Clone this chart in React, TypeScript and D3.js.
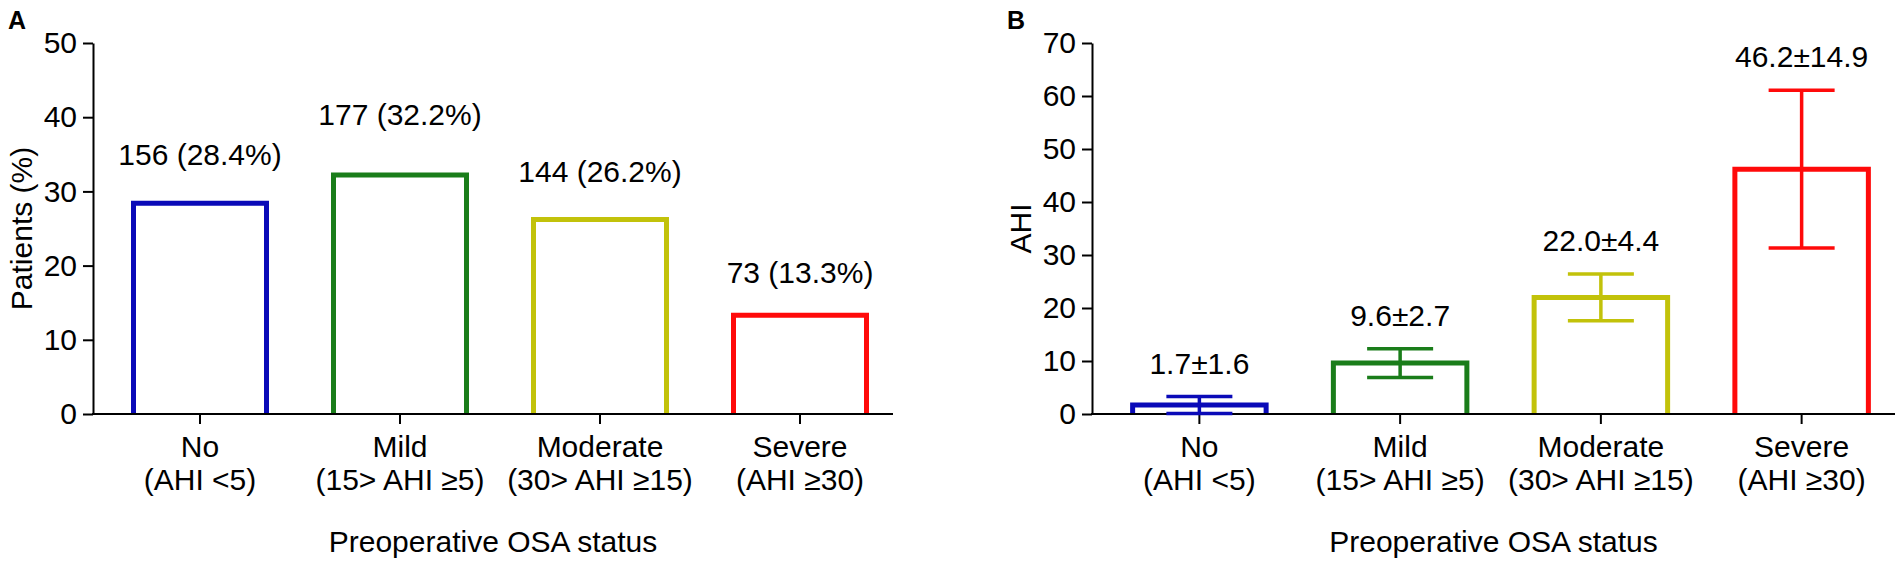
import { useEffect, useRef } from 'react';
import * as d3 from 'd3';

const categories = ['No', 'Mild', 'Moderate', 'Severe'];
const categoryRanges = ['(AHI <5)', '(15> AHI ≥5)', '(30> AHI ≥15)', '(AHI ≥30)'];
const colors = ['#0a0ab8', '#1a7d1a', '#c2c20a', '#ff0a0a'];

// panel A: share of patients
const patientCounts = [156, 177, 144, 73];
const patientPercents = [28.4, 32.2, 26.2, 13.3];
const countLabelLevels = [33.5, 39.0, 31.3, 17.6]; // label baselines, in % units
const percentTicks = [0, 10, 20, 30, 40, 50];

// panel B: AHI mean ± SD
const ahiMeans = [1.7, 9.6, 22.0, 46.2];
const ahiSds = [1.6, 2.7, 4.4, 14.9];
const ahiTicks = [0, 10, 20, 30, 40, 50, 60, 70];

const WIDTH = 1902;
const HEIGHT = 569;
const FONT = "'Liberation Sans', Arial, Helvetica, sans-serif";
const PLOT_TOP = 43;
const PLOT_BOTTOM = 414;

interface PanelOptions {
  letter: string;
  axisX: number;
  axisEnd: number;
  yTitle: string;
  ticks: number[];
  values: number[];
}

function drawPanel(
  svg: d3.Selection<SVGSVGElement, unknown, null, undefined>,
  opts: PanelOptions
) {
  const { letter, axisX, axisEnd, yTitle, ticks, values } = opts;
  const g = svg.append('g');

  const x = d3
    .scaleBand<string>()
    .domain(categories)
    .range([axisX + 7, axisEnd + 7])
    .paddingInner(0.335)
    .paddingOuter(0.1675);

  const y = d3
    .scaleLinear()
    .domain([0, ticks[ticks.length - 1]])
    .range([PLOT_BOTTOM, PLOT_TOP]);

  // open-bottom bars
  categories.forEach((c, i) => {
    const x0 = x(c)!;
    const x1 = x0 + x.bandwidth();
    const top = y(values[i]);
    g.append('path')
      .attr('d', `M${x0},${y(0)}V${top}H${x1}V${y(0)}`)
      .attr('fill', 'none')
      .attr('stroke', colors[i])
      .attr('stroke-width', 5);
  });

  // y axis
  const yAxis = g
    .append('g')
    .attr('transform', `translate(${axisX},0)`)
    .call(d3.axisLeft(y).tickValues(ticks).tickSize(10).tickSizeOuter(0).tickPadding(6))
    .attr('font-size', 30)
    .attr('font-family', FONT)
    .attr('color', '#000');
  yAxis.selectAll('line, path').attr('stroke-width', 2);

  // x axis
  const xAxis = g
    .append('g')
    .attr('transform', `translate(0,${PLOT_BOTTOM})`)
    .call(d3.axisBottom(x).tickSize(10).tickSizeOuter(0).tickFormat(() => ''))
    .attr('color', '#000');
  xAxis.select('.domain').remove();
  xAxis.selectAll('line').attr('stroke-width', 2);
  g.append('line')
    .attr('x1', axisX - 1)
    .attr('x2', axisEnd)
    .attr('y1', PLOT_BOTTOM)
    .attr('y2', PLOT_BOTTOM)
    .attr('stroke', '#000')
    .attr('stroke-width', 2);

  // category labels
  categories.forEach((c, i) => {
    const cx = x(c)! + x.bandwidth() / 2;
    g.append('text')
      .attr('x', cx)
      .attr('y', 457)
      .attr('text-anchor', 'middle')
      .attr('font-family', FONT)
      .attr('font-size', 30)
      .text(c);
    g.append('text')
      .attr('x', cx)
      .attr('y', 490)
      .attr('text-anchor', 'middle')
      .attr('font-family', FONT)
      .attr('font-size', 30)
      .text(categoryRanges[i]);
  });

  g.append('text')
    .attr('x', (axisX + axisEnd) / 2)
    .attr('y', 552)
    .attr('text-anchor', 'middle')
    .attr('font-family', FONT)
    .attr('font-size', 30)
    .text('Preoperative OSA status');

  const titleX = axisX - 61;
  g.append('text')
    .attr('transform', `translate(${titleX},${(PLOT_TOP + PLOT_BOTTOM) / 2}) rotate(-90)`)
    .attr('text-anchor', 'middle')
    .attr('font-family', FONT)
    .attr('font-size', 30)
    .text(yTitle);

  g.append('text')
    .attr('x', axisX - 85)
    .attr('y', 29)
    .attr('font-family', FONT)
    .attr('font-size', 25)
    .attr('font-weight', 'bold')
    .text(letter);

  return { g, x, y };
}

export default function App() {
  const svgRef = useRef<SVGSVGElement>(null);

  useEffect(() => {
    if (!svgRef.current) return;
    const svg = d3.select(svgRef.current);
    svg.selectAll('*').remove();

    // Panel A
    const a = drawPanel(svg, {
      letter: 'A',
      axisX: 93,
      axisEnd: 893,
      yTitle: 'Patients (%)',
      ticks: percentTicks,
      values: patientPercents,
    });
    categories.forEach((c, i) => {
      a.g.append('text')
        .attr('x', a.x(c)! + a.x.bandwidth() / 2)
        .attr('y', a.y(countLabelLevels[i]))
        .attr('text-anchor', 'middle')
        .attr('font-family', FONT)
        .attr('font-size', 30)
        .text(`${patientCounts[i]} (${patientPercents[i].toFixed(1)}%)`);
    });

    // Panel B
    const b = drawPanel(svg, {
      letter: 'B',
      axisX: 1092,
      axisEnd: 1895,
      yTitle: 'AHI',
      ticks: ahiTicks,
      values: ahiMeans,
    });
    const capW = 66;
    categories.forEach((c, i) => {
      const cx = b.x(c)! + b.x.bandwidth() / 2;
      const hi = b.y(ahiMeans[i] + ahiSds[i]);
      const lo = b.y(Math.max(0, ahiMeans[i] - ahiSds[i]));
      const eb = b.g.append('g').attr('stroke', colors[i]).attr('stroke-width', 3.5);
      eb.append('line').attr('x1', cx).attr('x2', cx).attr('y1', hi).attr('y2', lo);
      eb.append('line').attr('x1', cx - capW / 2).attr('x2', cx + capW / 2).attr('y1', hi).attr('y2', hi);
      eb.append('line').attr('x1', cx - capW / 2).attr('x2', cx + capW / 2).attr('y1', lo).attr('y2', lo);

      b.g.append('text')
        .attr('x', cx)
        .attr('y', hi - 23)
        .attr('text-anchor', 'middle')
        .attr('font-family', FONT)
        .attr('font-size', 30)
        .text(`${ahiMeans[i].toFixed(1)}±${ahiSds[i].toFixed(1)}`);
    });
  }, []);

  return (
    <div style={{ position: 'fixed', left: 0, top: 0, background: '#fff' }}>
      <svg ref={svgRef} width={WIDTH} height={HEIGHT} style={{ display: 'block' }} />
    </div>
  );
}
